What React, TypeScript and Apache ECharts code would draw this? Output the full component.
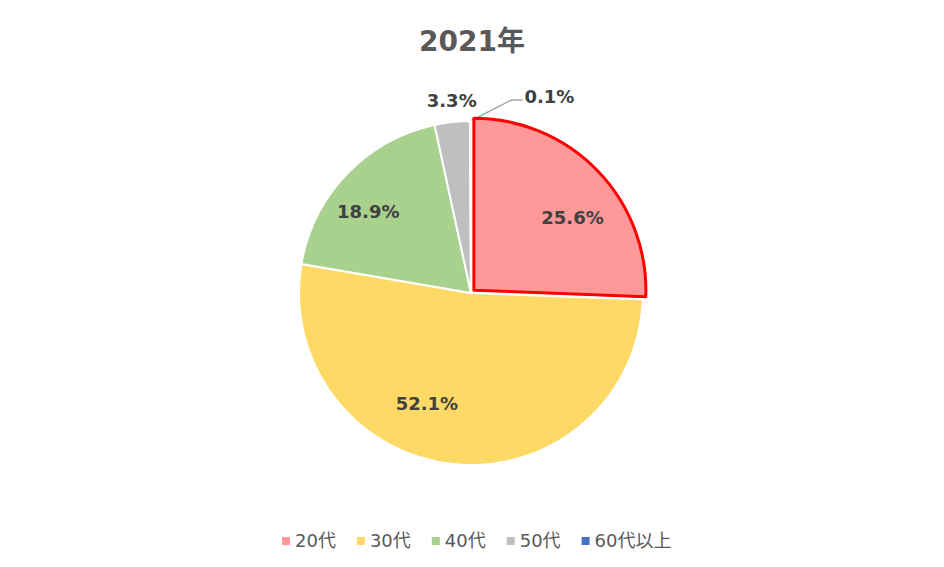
import { useEffect, useRef } from 'react';
import * as echarts from 'echarts';

const TITLE = '2021年';
const CATEGORIES = ['20代', '30代', '40代', '50代', '60代以上'];
const VALUES = [25.6, 52.1, 18.9, 3.3, 0.1];
const COLORS = ['#FF9999', '#FFD966', '#A9D18E', '#BFBFBF', '#4472C4'];

const FONT = '"DejaVu Sans", "Noto Sans CJK JP", sans-serif';
const CENTER = [471, 293];
const R = 172;

export default function App() {
  const ref = useRef<HTMLDivElement>(null);
  useEffect(() => {
    document.body.style.margin = '0';
    const chart = echarts.init(ref.current!, null, { renderer: 'svg' });
    const fmt = (p: any) => `${Number(p.value).toFixed(1)}%`;
    const labelStyle = { fontFamily: FONT, fontSize: 18, fontWeight: 'bold', color: '#404040' };
    const nudge: Record<number, [number, number]> = { 0: [10, 13], 1: [-31, -16], 2: [-11, 6] };

    const main: any = {
      type: 'pie',
      center: CENTER,
      radius: R,
      startAngle: 90,
      clockwise: true,
      avoidLabelOverlap: false,
      selectedMode: 'single',
      selectedOffset: 4,
      emphasis: { disabled: true },
      data: CATEGORIES.map((name, i) => ({
        name,
        value: VALUES[i],
        selected: i === 0,
        itemStyle:
          i === 0
            ? { color: COLORS[i], borderColor: '#FF0000', borderWidth: 3 }
            : { color: COLORS[i], borderColor: '#FFFFFF', borderWidth: 2 },
        label:
          i === 4
            ? { show: true, position: 'outside', formatter: fmt, ...labelStyle }
            : { show: false },
        labelLine:
          i === 4
            ? { show: true, length: 10, length2: 10, smooth: false, lineStyle: { color: '#A6A6A6', width: 1.5 } }
            : { show: false },
      })),
      labelLayout: (p: any) => {
        if (p.dataIndex !== 4 || !p.labelLinePoints) return {};
        const p0 = p.labelLinePoints[0];
        const p1 = [p0[0] + 41, p0[1] - 21];
        const p2 = [p1[0] + 11, p1[1]];
        return { x: p2[0] + 2, y: p2[1] - 4, align: 'left', verticalAlign: 'middle', labelLinePoints: [p0, p1, p2] };
      },
    };

    const overlayInner: any = {
      type: 'pie',
      center: CENTER,
      radius: [76, R],
      startAngle: 90,
      clockwise: true,
      silent: true,
      selectedMode: false,
      avoidLabelOverlap: false,
      emphasis: { disabled: true },
      itemStyle: { color: 'rgba(0,0,0,0)', borderWidth: 0 },
      labelLine: { show: false },
      label: { show: true, position: 'inside', rotate: 0, formatter: fmt, ...labelStyle },
      data: CATEGORIES.map((name, i) => ({ name, value: VALUES[i], label: { show: i < 3 } })),
      labelLayout: (p: any) => {
        const d = nudge[p.dataIndex];
        return d ? { dx: d[0], dy: d[1] } : {};
      },
    };

    const overlayOuter: any = {
      type: 'pie',
      center: CENTER,
      radius: [R, 210],
      startAngle: 90,
      clockwise: true,
      silent: true,
      selectedMode: false,
      avoidLabelOverlap: false,
      emphasis: { disabled: true },
      itemStyle: { color: 'rgba(0,0,0,0)', borderWidth: 0 },
      labelLine: { show: false },
      label: { show: true, position: 'inside', rotate: 0, formatter: fmt, ...labelStyle },
      data: CATEGORIES.map((name, i) => ({ name, value: VALUES[i], label: { show: i === 3 } })),
      labelLayout: (p: any) => (p.dataIndex === 3 ? { dx: 2 } : {}),
    };

    chart.setOption({
      animation: false,
      backgroundColor: '#FFFFFF',
      title: {
        text: TITLE,
        left: 'center',
        top: 22,
        textStyle: { fontFamily: FONT, fontSize: 28, fontWeight: 'bold', color: '#595959' },
      },
      legend: {
        left: 277,
        top: 527,
        icon: 'rect',
        itemWidth: 8,
        itemHeight: 8,
        itemGap: 21,
        selectedMode: false,
        data: CATEGORIES,
        itemStyle: { borderWidth: 0 },
        textStyle: { fontFamily: FONT, fontSize: 18, color: '#595959' },
      },
      series: [main, overlayInner, overlayOuter],
    });
    return () => chart.dispose();
  }, []);
  return <div ref={ref} style={{ width: 944, height: 567 }} />;
}
